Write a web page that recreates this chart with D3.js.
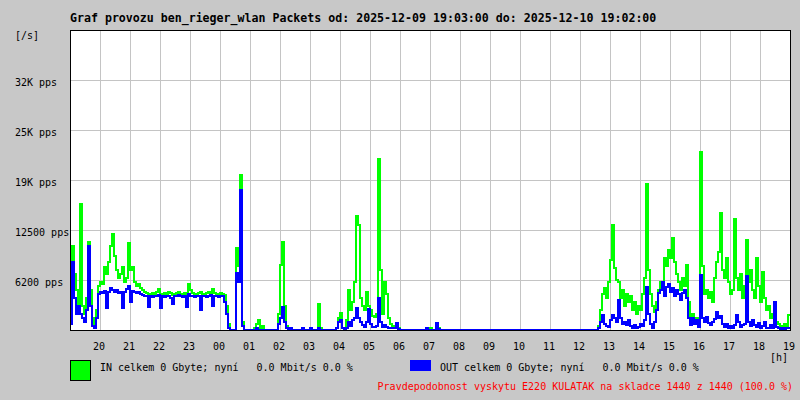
<!DOCTYPE html>
<html>
<head>
<meta charset="utf-8">
<script src="https://cdn.jsdelivr.net/npm/d3@7"></script>
<style>
  html, body { margin: 0; padding: 0; background: #c8c8c8; }
  svg { display: block; }
  text { font-family: "DejaVu Sans Mono", monospace; font-size: 10px; fill: #000; white-space: pre; }
</style>
</head>
<body>
<svg id="chart" width="800" height="400"></svg>
<script>
// ---- Data (packets per second, one value per 4 minutes, starting 2025-12-09 19:00) ----
const title = "Graf provozu ben_rieger_wlan Packets od: 2025-12-09 19:03:00 do: 2025-12-10 19:02:00";
const yUnitLabel = "[/s]";
const xUnitLabel = "[h]";
const yTickValues = [6250, 12500, 18750, 25000, 31250];
const yTickLabels = ["6200 pps", "12500 pps", "19K pps", "25K pps", "32K pps"];
const yMax = 37500;
const legendIn = "IN celkem 0 Gbyte; nyní   0.0 Mbit/s 0.0 %";
const legendOut = "OUT celkem 0 Gbyte; nyní   0.0 Mbit/s 0.0 %";
const footer = "Pravdepodobnost vyskytu E220 KULATAK na skladce 1440 z 1440 (100.0 %)";

const inValues = [
  2000,10500,7000,5000,2500,15800,3000,2000,4000,11000,5000,1500,500,2500,
  5500,6000,5800,7900,7000,8500,10500,12000,9200,7500,6500,7000,7900,6000,6500,10900,7500,7900,6000,5500,5700,5200,5000,4700,
  4600,4500,4400,4600,4500,4700,5100,4500,4400,4600,
  4500,4700,4600,4400,4500,4600,4800,4500,4400,4600,
  4500,5800,5000,4600,4500,4400,4600,4700,4500,4400,
  4600,4700,4500,5100,4600,4500,4400,4600,4500,4400,
  3000,800,
  0,0,0,
  10200,8000,19400,1000,
  0,0,0,0,0,300,800,1300,200,500,0,0,0,0,0,0,0,
  2000,8100,11000,3000,500,0,200,
  0,0,0,0,0,
  200,
  0,0,0,
  200,
  0,0,0,
  3300,300,
  0,0,0,0,0,0,0,
  300,1500,2100,300,200,1200,5000,2500,3500,6000,14250,13100,4000,3000,2500,4800,3000,2500,1800,1600,2000,21400,7500,2000,6000,4500,1500,800,500,300,900,200,
  0,0,0,0,0,0,0,0,0,0,0,0,0,0,0,200,0,0,
  900,200,
  0,0,0,0,0,0,0,0,0,0,
  0,0,0,0,0,0,0,0,0,0,
  0,0,0,0,0,0,0,0,0,0,
  0,0,0,0,0,0,0,0,0,0,
  0,0,0,0,0,0,0,0,0,0,
  0,0,0,0,0,0,0,0,0,0,
  0,0,0,0,0,0,0,0,0,0,
  0,0,0,0,0,0,0,0,0,
  500,2500,4500,5200,4000,6000,8700,13100,7700,6300,
  6000,4000,5000,3000,4500,3500,4200,2500,3500,2000,
  3000,2500,4500,6500,18200,7500,4500,3000,2300,3500,
  5000,6000,5000,9000,8000,10000,9000,11500,8500,7000,
  6000,5000,6500,5500,8100,3500,1500,2000,1000,1500,
  500,22200,8000,4500,5000,4000,4700,3500,6500,8500,
  9700,14600,7500,6500,9000,6000,4500,5000,13900,6500,
  5000,7000,4000,5500,11200,6000,7500,5000,4000,9000,
  5500,3500,7200,4000,2500,3000,1500,2000,3500,1000,
  700,500,300,800,500,1900
];

const outValues = [
  800,8500,4000,2000,3000,2000,1500,1000,2500,10500,3000,500,200,1500,
  4500,4800,4600,4900,2700,4700,5200,5000,4800,5000,4600,4700,2800,4800,5100,5500,3500,4900,4800,4600,4700,4500,4400,4300,
  4200,2900,4300,4100,4200,4300,4400,2800,4200,4100,
  4300,4200,4000,3300,4200,4300,4400,4200,4100,4300,
  2900,4500,4300,4200,4100,4300,4200,2500,4200,4300,
  4100,4200,4400,3000,4300,4200,4100,4300,4200,3500,
  2000,300,
  0,0,0,
  7100,6000,17500,500,
  0,0,0,0,0,0,200,0,0,0,0,0,0,0,0,0,0,
  800,1500,2900,1000,200,0,300,
  0,0,0,0,0,
  200,
  0,0,0,
  200,
  0,0,0,
  300,0,
  0,0,0,0,0,0,0,
  300,1000,1250,200,0,300,1000,500,1200,1500,2700,1500,1000,600,400,1000,2600,800,400,400,500,4000,1000,400,600,400,300,300,200,300,900,100,
  0,0,0,0,0,0,0,0,0,0,0,0,0,300,0,0,0,0,
  900,100,
  0,0,0,0,0,0,0,0,0,0,
  0,0,0,0,0,0,0,0,0,0,
  0,0,0,0,0,0,0,0,0,0,
  0,0,0,0,0,0,0,0,0,0,
  0,0,0,0,0,0,0,0,0,0,
  0,0,0,0,0,0,0,0,0,0,
  0,0,0,0,0,0,0,0,0,0,
  0,0,0,0,0,0,0,0,0,
  200,1000,1900,800,500,400,1200,1900,1500,1000,
  3700,1500,800,1000,600,1200,500,300,600,300,
  400,800,500,1200,5400,2000,800,300,1000,2500,
  4600,5000,6000,4200,5400,5800,4800,5200,4300,5000,
  4500,3800,4600,5000,4000,1500,600,1500,800,1200,
  400,6900,1500,1000,1600,900,600,1000,1400,2300,
  1500,1800,700,400,800,300,500,200,600,1900,
  1000,400,600,800,6700,1000,500,1200,600,400,
  900,300,500,1000,300,200,600,300,3500,400,
  200,100,200,100,200,300
];

const startTime = new Date(2025, 11, 9, 19, 0, 0);
const endTime = new Date(2025, 11, 10, 19, 0, 0);
const stepMinutes = 4;

// ---- Layout ----
const plot = { left: 70, top: 30, right: 790, bottom: 330 };
const svg = d3.select("#chart");

const x = d3.scaleTime().domain([startTime, endTime]).range([plot.left, plot.right]);
const y = d3.scaleLinear().domain([0, yMax]).range([plot.bottom, plot.top]);

const timeAt = i => new Date(startTime.getTime() + i * stepMinutes * 60000);

// background of plot
svg.append("rect")
  .attr("x", plot.left).attr("y", plot.top)
  .attr("width", plot.right - plot.left).attr("height", plot.bottom - plot.top)
  .attr("fill", "#ffffff");

// grid
const hourTicks = x.ticks(d3.timeHour.every(1));
svg.append("g").selectAll("line")
  .data(hourTicks.filter(t => x(t) > plot.left && x(t) < plot.right))
  .join("line")
  .attr("x1", d => Math.round(x(d)) + 0.5).attr("x2", d => Math.round(x(d)) + 0.5)
  .attr("y1", plot.top).attr("y2", plot.bottom)
  .attr("stroke", "#c4c4c4").attr("stroke-width", 1);

svg.append("g").selectAll("line")
  .data(yTickValues)
  .join("line")
  .attr("x1", plot.left).attr("x2", plot.right)
  .attr("y1", d => Math.round(y(d)) + 0.5).attr("y2", d => Math.round(y(d)) + 0.5)
  .attr("stroke", "#c4c4c4").attr("stroke-width", 1);

// series
function seriesPoints(vals) {
  const pts = vals.map((v, i) => ({ t: timeAt(i), v }));
  pts.push({ t: timeAt(vals.length), v: vals[vals.length - 1] });
  return pts;
}
const line = d3.line()
  .x(d => Math.round(x(d.t)))
  .y(d => Math.round(y(d.v)))
  .curve(d3.curveStepAfter);

svg.append("clipPath").attr("id", "plotclip")
  .append("rect").attr("x", plot.left + 1).attr("y", plot.top)
  .attr("width", plot.right - plot.left - 1).attr("height", plot.bottom - plot.top);

svg.append("path")
  .datum(seriesPoints(inValues))
  .attr("d", line)
  .attr("fill", "none").attr("stroke", "#00ff00").attr("stroke-width", 2)
  .attr("clip-path", "url(#plotclip)");

svg.append("path")
  .datum(seriesPoints(outValues))
  .attr("d", line)
  .attr("fill", "none").attr("stroke", "#0000ff").attr("stroke-width", 2)
  .attr("clip-path", "url(#plotclip)");

// frame
svg.append("rect")
  .attr("x", plot.left + 0.5).attr("y", plot.top + 0.5)
  .attr("width", plot.right - plot.left).attr("height", plot.bottom - plot.top)
  .attr("fill", "none").attr("stroke", "#000").attr("stroke-width", 1);

// y labels
svg.append("g").selectAll("text")
  .data(yTickValues)
  .join("text")
  .attr("x", 15)
  .attr("y", d => Math.round(y(d)) + 6)
  .text((d, i) => yTickLabels[i]);

svg.append("text").attr("x", 15).attr("y", 39).text(yUnitLabel);

// x labels
const hourFmt = d3.timeFormat("%H");
svg.append("g").selectAll("text")
  .data(hourTicks.filter(t => x(t) > plot.left))
  .join("text")
  .attr("x", d => x(d) - 1)
  .attr("y", 350)
  .attr("text-anchor", "middle")
  .text(d => hourFmt(d));

svg.append("text").attr("x", 770).attr("y", 361).text(xUnitLabel);

// title
svg.append("text")
  .attr("x", 70).attr("y", 22)
  .style("font-size", "11.6px").style("font-weight", "bold")
  .text(title);

// legend
svg.append("rect").attr("x", 70.5).attr("y", 360.5).attr("width", 20).attr("height", 20)
  .attr("fill", "#00ff00").attr("stroke", "#000").attr("stroke-width", 1);
svg.append("text").attr("x", 100).attr("y", 371).attr("xml:space", "preserve").text(legendIn);

svg.append("rect").attr("x", 410).attr("y", 360).attr("width", 21).attr("height", 11)
  .attr("fill", "#0000ff");
svg.append("text").attr("x", 440).attr("y", 371).attr("xml:space", "preserve").text(legendOut);

svg.append("text").attr("x", 793).attr("y", 390).attr("text-anchor", "end")
  .style("fill", "#ff0000").text(footer);
</script>
</body>
</html>
